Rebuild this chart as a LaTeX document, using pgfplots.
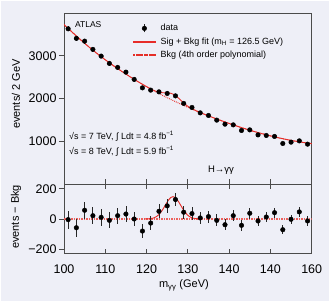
\documentclass[border=0pt]{standalone}
\usepackage{fontspec}
\setmainfont{Liberation Sans}
\usepackage{pgfplots}
\usepackage{pgfplotstable}
\pgfplotsset{compat=1.18}
\definecolor{bg}{RGB}{238,239,247}
\definecolor{fitred}{RGB}{230,45,40}
\definecolor{legredA}{RGB}{231,44,41}
\definecolor{legredB}{RGB}{229,46,39}
\definecolor{axgray}{RGB}{75,75,75}

\pgfplotstableread{
x y e
101 3631 60
103 3407 58
105 3343 58
107 3150 56
109 2993 55
111 2822 53
113 2729 52
115 2619 51
117 2449 49
119 2252 47
121 2199 47
123 2159 46
125 2121 46
127 2065 45
129 1888 43
131 1794 42
133 1668 41
135 1607 40
137 1498 39
139 1404 37
141 1388 37
143 1257 35
145 1271 36
147 1154 34
149 1140 34
151 1117 33
153 953 31
155 984 31
157 1014 32
159 937 31
}\updata

\pgfplotstableread{
x r e
101 -4 60
103 -58 58
105 58 58
107 22 56
109 11 55
111 -9 53
113 22 52
115 33 51
117 0 49
119 -80 47
121 -27 47
123 51 46
125 87 46
127 129 45
129 45 43
131 36 42
133 7 41
135 16 40
137 -9 39
139 -38 37
141 22 37
143 -42 35
145 38 36
147 -13 34
149 13 34
151 42 33
153 -71 31
155 -2 31
157 47 32
159 -13 31
}\lodata

\begin{document}
\begin{tikzpicture}
\fill[white] (0,0) rectangle (329bp,301bp);
\fill[bg] (1bp,0) rectangle (329bp,299.5bp);
\pgfplotsset{
  every axis/.append style={
    scale only axis, width=247.7bp, xmin=100, xmax=160,
    axis line style={axgray, line width=0.8bp},
    tick style={axgray, line width=0.7bp},
    major tick length=5bp,
    tick align=inside,
    y tick style={xshift=-5bp},
    yticklabel style={xshift=-4bp, font=\fontsize{12.5bp}{14bp}\selectfont},
    xticklabel style={yshift=-8bp, font=\fontsize{12.5bp}{14bp}\selectfont},
    ytick pos=left,
    label style={font=\fontsize{11bp}{13bp}\selectfont},
    minor tick num=0,
  }
}
\begin{axis}[
  at={(64bp,116.7bp)}, anchor=south west, height=171.3bp,
  ymin=0, ymax=4000, ytick={1000,2000,3000}, yticklabels={1000,2000,3000},
  xtick={100,110,...,160}, xticklabels={}, xtick pos=bottom,
  ylabel={events/ 2 GeV},
  ylabel style={at={(axis description cs:-0.194,0.527)}, anchor=center},
  legend style={at={(axis description cs:0.2786,0.937)}, anchor=north west,
    draw=none, fill=none, inner sep=0pt, row sep=5bp, column sep=5bp,
    font=\fontsize{9bp}{11bp}\selectfont, nodes={inner sep=0pt, text=black}},
  legend cell align=left,
]
\addplot[fitred, densely dotted, line width=0.9bp, forget plot] coordinates {
(100,3728) (102,3550) (104,3376) (106,3211) (108,3054) (110,2907) (112,2768)
(114,2636) (116,2511) (118,2392) (120,2279) (122,2172) (124,2071) (126,1976)
(128,1885) (130,1798) (132,1715) (134,1636) (136,1561) (138,1490) (140,1421)
(142,1355) (144,1293) (146,1235) (148,1181) (150,1131) (152,1085) (154,1044)
(156,1008) (158,976) (160,950)};
\addplot[fitred, line width=0.9bp, forget plot] coordinates {
(100,3728) (102,3550) (104,3376) (106,3211) (108,3054) (110,2907) (112,2768)
(114,2636) (116,2511) (118,2392) (119.4,2313) (120.4,2259) (121.4,2209)
(121.9,2186) (122.4,2168) (122.9,2154) (123.4,2144) (123.9,2138) (124.4,2137)
(124.9,2136) (125.4,2134) (125.9,2124) (126.4,2106) (126.9,2078) (127.4,2041)
(127.9,1998) (128.4,1953) (128.9,1908) (129.4,1867) (129.9,1829) (130.4,1797)
(130.9,1770) (131.4,1745) (132.4,1700) (133.4,1660) (134,1636) (136,1561)
(138,1490) (140,1421) (142,1355) (144,1293) (146,1235) (148,1181) (150,1131)
(152,1085) (154,1044) (156,1008) (158,976) (160,950)};
\addplot[black, only marks, mark=*, mark size=2.3bp, forget plot,
  error bars/.cd, y dir=both, y explicit, error mark=none,
  error bar style={black!85, line width=0.8bp}]
  table[x=x, y=y, y error=e] {\updata};
\addlegendimage{legend image code/.code={\draw[black!85,line width=0.8bp] (11bp,-4bp)--(11bp,4bp); \fill[black] (11bp,0bp) circle (2.3bp);}}
\addlegendentry{data}
\addlegendimage{legend image code/.code={\fill[legredA] (0bp,-0.45bp) rectangle (22bp,0.45bp);}}
\addlegendentry{Sig + Bkg fit (m\textsubscript{H} = 126.5 GeV)}
\addlegendimage{legend image code/.code={\foreach \k in {0,...,8} {\fill[legredB] (2.6bp*\k,-0.45bp) rectangle ++(1.2bp,0.9bp);}}}
\addlegendentry{Bkg (4th order polynomial)}
\node[anchor=west, font=\fontsize{8.5bp}{10bp}\selectfont, inner sep=0pt] at (axis description cs:0.044,0.932) {ATLAS};
\node[anchor=west, font=\fontsize{9bp}{11bp}\selectfont, inner sep=0pt] at (axis description cs:0.02,0.279) {√s = 7 TeV, ∫ Ldt = 4.8 fb\textsuperscript{−1}};
\node[anchor=west, font=\fontsize{9bp}{11bp}\selectfont, inner sep=0pt] at (axis description cs:0.02,0.194) {√s = 8 TeV, ∫ Ldt = 5.9 fb\textsuperscript{−1}};
\node[anchor=center, font=\fontsize{9.5bp}{11bp}\selectfont, inner sep=0pt] at (axis description cs:0.634,0.084) {H→γγ};
\end{axis}
\begin{axis}[
  at={(64bp,47.3bp)}, anchor=south west, height=69.4bp,
  ymin=-230, ymax=230, ytick={-200,0,200}, yticklabels={−200,0,200},
  xtick={100,110,...,160}, xticklabels={100,110,120,130,140,140,160},
  xtick pos=both,
  xlabel={m\textsubscript{γγ} (GeV)},
  xlabel style={at={(axis description cs:0.484,-0.451)}, anchor=center},
  ylabel={events − Bkg},
  ylabel style={at={(axis description cs:-0.194,0.53)}, anchor=center},
]
\addplot[fitred!75, densely dotted, line width=1.5bp] coordinates {(100,0) (160,0)};
\addplot[fitred, line width=0.9bp] coordinates {
(119.4,0) (120.4,1) (121.4,4.6) (121.9,9) (122.4,16) (122.9,27) (123.4,42.6)
(123.9,62) (124.4,85) (124.9,108) (125.4,129) (125.9,143) (126.4,148)
(126.9,143) (127.4,129) (127.9,108) (128.4,85) (128.9,62) (129.4,42.6)
(129.9,27) (130.4,16) (130.9,9) (131.4,4.6) (132.4,1) (133.4,0)};
\addplot[black, only marks, mark=*, mark size=2.3bp,
  error bars/.cd, y dir=both, y explicit, error mark=none,
  error bar style={black!85, line width=0.8bp}]
  table[x=x, y=r, y error=e] {\lodata};
\end{axis}
\pgfresetboundingbox
\useasboundingbox (0,0) rectangle (329bp,301bp);
\end{tikzpicture}
\end{document}
